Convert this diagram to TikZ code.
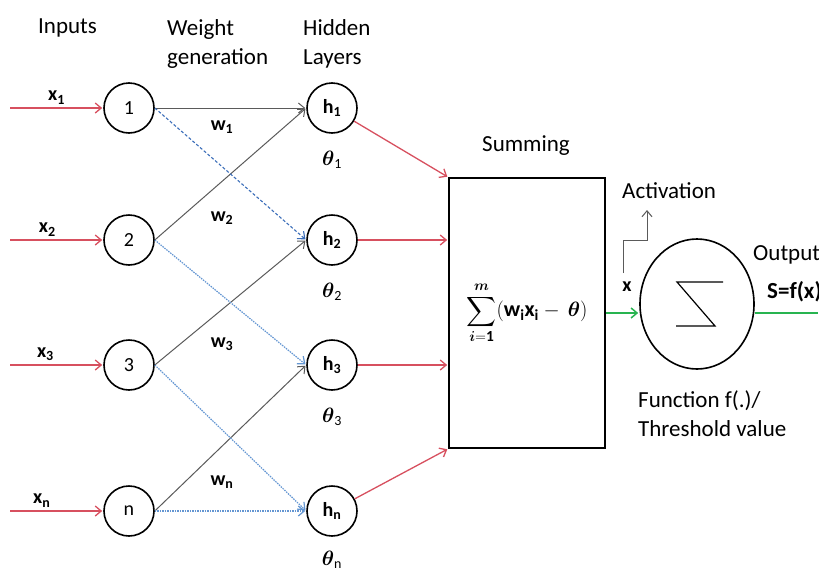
\documentclass[tikz,border=0pt]{standalone}
\usepackage{amsmath}
\usepackage{fontspec}
\setmainfont{Carlito}
\usetikzlibrary{arrows, arrows.meta, automata, shapes.geometric}
\definecolor{inred}{RGB}{215,80,95}
\definecolor{wgray}{RGB}{90,90,90}
\definecolor{wblue}{RGB}{60,110,185}
\definecolor{wlight}{RGB}{100,150,210}
\definecolor{outgreen}{RGB}{40,180,80}
\newcommand{\bsub}[2]{\textbf{#1}\textsubscript{\textbf{#2}}}
\newcommand{\sumterm}{$\displaystyle\sum_{\boldsymbol{i}\mathbf{=1}}^{\boldsymbol{m}}(\mathbf{w}_{\mathbf{i}}\mathbf{x}_{\mathbf{i}} -\,\boldsymbol{\theta})$}

\begin{document}
\begin{tikzpicture}[x=1pt, y=-1pt, >={Straight Barb[length=6pt,width=10pt]}, shorten >=1pt, auto, node distance=203pt,
    every state/.style={draw, line width=1.6pt, minimum size=50pt, inner sep=0pt, font=\fontsize{20}{24}\selectfont},
    lbl/.style={anchor=north west, inner sep=0pt, align=left, font=\fontsize{23}{29}\selectfont},
    sym/.style={text=black, font=\fontsize{20}{24}\selectfont},
    sumbox/.style={draw, line width=1.6pt, minimum width=156pt, minimum height=270pt, font=\fontsize{22}{26}\selectfont},
    inarrow/.style={->, draw=inred, line width=1.3pt},
    weight/.style={->, draw=wgray, line width=1pt},
    wdash/.style={->, draw=wblue, line width=1.1pt, dash pattern=on 3pt off 2pt},
    wdot/.style={->, draw=wlight, line width=1.2pt, dash pattern=on 1.5pt off 1pt},
    outarrow/.style={draw=outgreen, line width=1.5pt}]

    \useasboundingbox (0,0) rectangle (819,568);

    %headings
    \node[lbl] (tin) at (38,19) {Inputs};
    \node[lbl] (twg) at (167,19) {Weight\\generation};
    \node[lbl] (thl) at (303,19) {Hidden\\Layers};

    %define the input and hidden nodes
    \node[state] (i1) at (129,108) {1};
    \node[state] (i2) at (129,240) {2};
    \node[state] (i3) at (129,365) {3};
    \node[state] (i4) at (129,511) {n};
    \node[state] (h1) [right of=i1] {\bsub{h}{1}};
    \node[state] (h2) [right of=i2] {\bsub{h}{2}};
    \node[state] (h3) [right of=i3] {\bsub{h}{3}};
    \node[state] (h4) [right of=i4] {\bsub{h}{n}};

    %thresholds
    \node[sym] (t1) [below of=h1, node distance=52pt] {$\boldsymbol{\theta}_{\mathrm{1}}$};
    \node[sym] (t2) [below of=h2, node distance=52pt] {$\boldsymbol{\theta}_{\mathrm{2}}$};
    \node[sym] (t3) [below of=h3, node distance=52pt] {$\boldsymbol{\theta}_{\mathrm{3}}$};
    \node[sym] (t4) [below of=h4, node distance=49pt] {$\boldsymbol{\theta}_{\mathrm{n}}$};

    %weights
    \node[sym] (w1) at (222,127) {\bsub{w}{1}};
    \node[sym] (w2) at (222,218) {\bsub{w}{2}};
    \node[sym] (w3) at (222,344) {\bsub{w}{3}};
    \node[sym] (w4) at (222,482) {\bsub{w}{n}};

    %summing box and activation
    \node[sumbox] (sbox) at (527,313) {\sumterm};
    \node[lbl] (tsum) at (482,135) {Summing};
    \node[draw, ellipse, line width=1.6pt, minimum width=114pt, minimum height=130pt] (act) at (697,304) {};
    \draw[line width=1.2pt] (723,282) -- (677,282) -- (715,326) -- (675,326);
    \node[lbl] (tact) at (622,182) {Activation};
    \node[sym] (xa) at (627,287) {\textbf{x}};
    \node[lbl] (tout) at (753,245) {Output};
    \node[lbl] (tsf) at (767,281) {\textbf{S=f(x)}};
    \node[lbl] (tfun) at (638,390) {Function f(.)/\\Threshold value};

    %free ends
    \coordinate (s1) at (10,108);
    \coordinate (s2) at (10,240);
    \coordinate (s3) at (10,365);
    \coordinate (s4) at (10,511);
    \coordinate (out) at (819,313);
    \coordinate (a0) at (623,273);
    \coordinate (ak) at (647,240);
    \coordinate (a1) at (647,209);

    %define the links
    \path (s1) edge[inarrow] node[sym] {\bsub{x}{1}} (i1)
        (s2) edge[inarrow] node[sym, pos=0.4] {\bsub{x}{2}} (i2)
        (s3) edge[inarrow] node[sym, pos=0.38] {\bsub{x}{3}} (i3)
        (s4) edge[inarrow] node[sym, pos=0.34] {\bsub{x}{n}} (i4);
    \path (i1.east) edge[weight] (h1.west)
        (i2.east) edge[weight] (h1.west)
        (i3.east) edge[weight] (h2.west)
        (i4.east) edge[weight] (h3.west)
        (i1.east) edge[wdash] (h2.west)
        (i2.east) edge[wdot] (h3.west)
        (i3.east) edge[wdot] (h4.west)
        (i4.east) edge[wdot] (h4.west);
    \path (h1) edge[inarrow] (sbox.north west)
        (h2) edge[inarrow] (h2 -| sbox.west)
        (h3) edge[inarrow] (h3 -| sbox.west)
        (h4) edge[inarrow] (sbox.south west);
    \draw[outarrow, ->] (sbox.east) -- (act.west |- sbox.east);
    \draw[outarrow] (act.east |- sbox.east) -- (out);
    \draw[->, draw=wgray, line width=1pt] (a0) |- (ak) -- (a1);
\end{tikzpicture}
\end{document}
